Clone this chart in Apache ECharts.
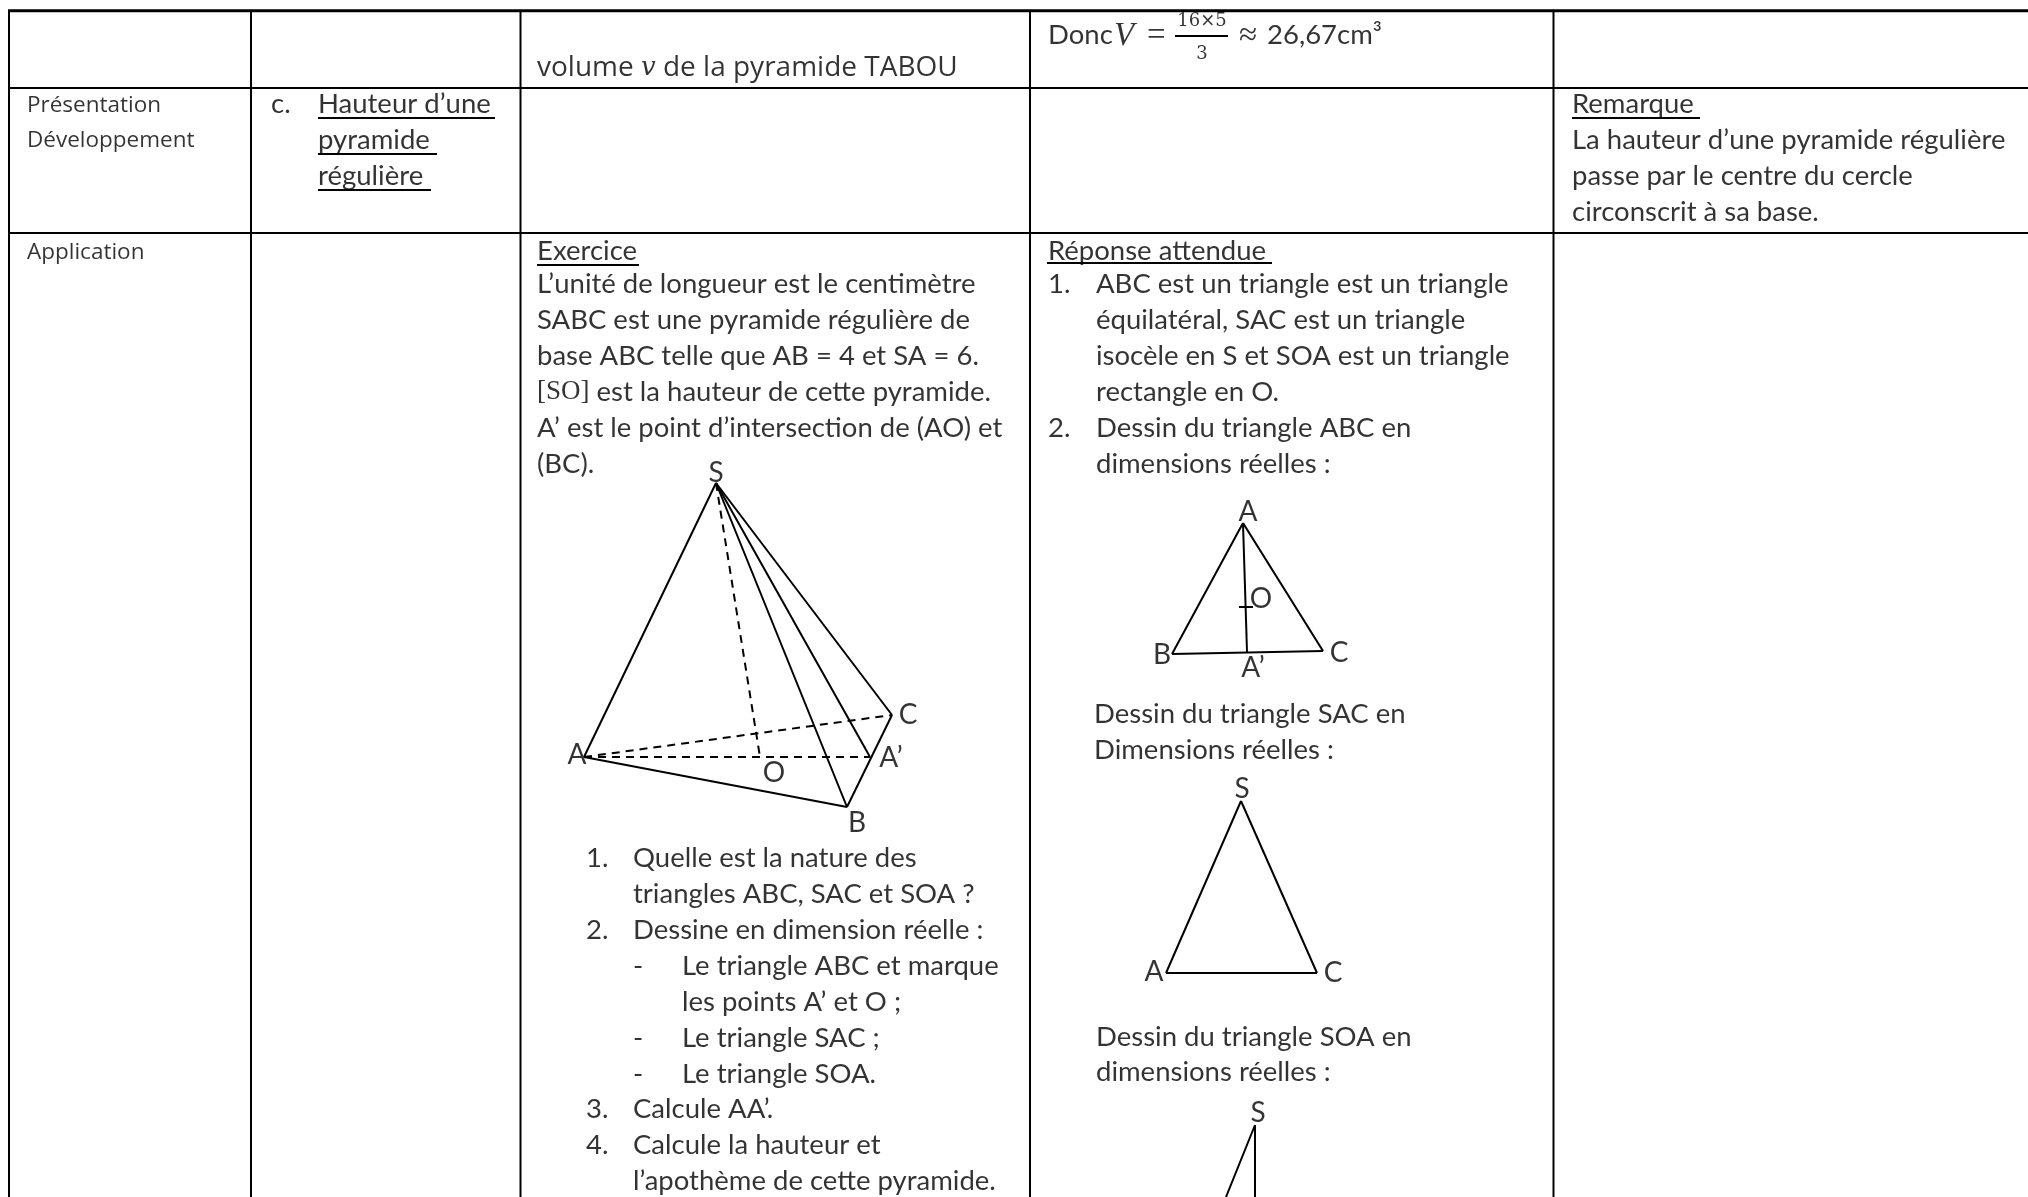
<!DOCTYPE html>
<html lang="fr">
<head>
    <meta charset="UTF-8">
    <title>Pyramide régulière</title>
    <script src="https://cdn.jsdelivr.net/npm/echarts@6/dist/echarts.min.js"></script>
    <style>html,body{margin:0;padding:0;background:#fff}</style>
</head>
<body>
    <div id="charts" style="width:2028px;height:1197px;"></div>
<script type="text/javascript">
    // lignes du tableau
    var columnRules = [9, 251, 520.5, 1030, 1553.5];
    var rowRules = [88, 233];
    var topRule = [[8, 10.7], [2028, 10.7]];

    // texte principal : [x, y, texte]
    var bodyText = [
        [271, 105, 'c.'],
        [318, 105, 'Hauteur d’une'],
        [318, 141, 'pyramide'],
        [318, 177, 'régulière'],
        [537, 252, 'Exercice'],
        [537, 285, 'L’unité de longueur est le centimètre'],
        [537, 321, 'SABC est une pyramide régulière de'],
        [537, 357, 'base ABC telle que AB = 4 et SA = 6.'],
        [537, 393, '{s|[SO]} est la hauteur de cette pyramide.'],
        [537, 429, 'A’ est le point d’intersection de (AO) et'],
        [537, 465, '(BC).'],
        [586, 859, '1.'],
        [633, 859, 'Quelle est la nature des'],
        [633, 895, 'triangles ABC, SAC et SOA ?'],
        [586, 931, '2.'],
        [633, 931, 'Dessine en dimension réelle :'],
        [633, 967, '-'],
        [682, 967, 'Le triangle ABC et marque'],
        [682, 1003, 'les points A’ et O ;'],
        [633, 1039, '-'],
        [682, 1039, 'Le triangle SAC ;'],
        [633, 1075, '-'],
        [682, 1075, 'Le triangle SOA.'],
        [586, 1110, '3.'],
        [633, 1110, 'Calcule AA’.'],
        [586, 1146, '4.'],
        [633, 1146, 'Calcule la hauteur et'],
        [633, 1182, 'l’apothème de cette pyramide.'],
        [1048, 252, 'Réponse attendue'],
        [1048, 285, '1.'],
        [1096, 285, 'ABC est un triangle est un triangle'],
        [1096, 321, 'équilatéral, SAC est un triangle'],
        [1096, 357, 'isocèle en S et SOA est un triangle'],
        [1096, 393, 'rectangle en O.'],
        [1048, 429, '2.'],
        [1096, 429, 'Dessin du triangle ABC en'],
        [1096, 465, 'dimensions réelles :'],
        [1094, 715, 'Dessin du triangle SAC en'],
        [1094, 751, 'Dimensions réelles :'],
        [1096, 1038, 'Dessin du triangle SOA en'],
        [1096, 1073, 'dimensions réelles :'],
        [1572, 105, 'Remarque'],
        [1572, 141, 'La hauteur d’une pyramide régulière'],
        [1572, 177, 'passe par le centre du cercle'],
        [1572, 213, 'circonscrit à sa base.'],
        [1048, 36, 'Donc'],
        [1267, 36, '26,67cm³']
    ];

    // cette ligne est plus large dans le document
    var volumeText = [
        [537, 68, 'volume {m|v} de la pyramide TABOU']
    ];

    // première colonne, plus petite
    var phaseText = [
        [27, 105, 'Présentation'],
        [27, 140, 'Développement'],
        [27, 252, 'Application']
    ];

    // formule de la ligne du haut
    var mathText = [
        [1114, 36, '{v|V}'],
        [1147, 36, '='],
        [1239, 36, '≈']
    ];
    var fractionText = [
        [1202, 21, '16×5'],
        [1202, 54, '3']
    ];

    // lettres des figures : [x, y, texte], centrées
    var figureLabels = [
        [716, 473, 'S'], [577, 755, 'A'], [908, 715, 'C'], [891, 758, 'A’'], [774, 773, 'O'], [857, 823, 'B'],
        [1248, 512, 'A'], [1261, 599, 'O'], [1162, 655, 'B'], [1339, 653, 'C'], [1253, 668, 'A’'],
        [1242, 789, 'S'], [1154, 972, 'A'], [1333, 973, 'C'],
        [1258, 1113, 'S']
    ];

    // soulignements
    var underlines = [
        [[318, 118], [495, 118]], [[318, 154], [437, 154]], [[318, 190], [431, 190]],
        [[537, 265], [639, 265]], [[1047, 263], [1272, 263]], [[1572, 118], [1700, 118]],
        [[1175, 36], [1228, 36]]
    ];

    // figures en trait plein
    var solidSegments = [
        [[716, 483], [584, 757]], [[584, 757], [847, 807]], [[847, 807], [892, 715]],
        [[716, 483], [847, 807]], [[716, 483], [892, 715]], [[716, 483], [870, 757]],
        [[1243, 523], [1172, 654]], [[1172, 654], [1323, 651]], [[1323, 651], [1243, 523]],
        [[1243, 523], [1247, 652]], [[1239, 607], [1253, 607]],
        [[1241, 801], [1166, 973]], [[1166, 973], [1317, 973]], [[1317, 973], [1241, 801]],
        [[1255, 1125], [1226, 1197]], [[1255, 1125], [1255, 1197]]
    ];

    // pointillés de la pyramide
    var dashedSegments = [
        [[716, 483], [760, 757]], [[584, 757], [870, 757]], [[584, 757], [892, 715]]
    ];

    function lineSeries(points, width, type) {
        return {
            type: 'line',
            data: points,
            showSymbol: false,
            silent: true,
            lineStyle: { color: '#000', width: width, type: type || 'solid' }
        };
    }

    function textSeries(items, style, pos) {
        return {
            type: 'scatter',
            data: items,
            symbolSize: 0,
            silent: true,
            label: Object.assign({
                show: true,
                position: pos || 'right',
                distance: 0,
                offset: [0, -1],
                color: '#000',
                fontFamily: 'Lato',
                fontSize: 27.5,
                formatter: function (p) { return p.data[2]; }
            }, style)
        };
    }

    var series = [];
    columnRules.forEach(function (x) {
        series.push(lineSeries([[x, 10], [x, 1197]], 2));
    });
    rowRules.forEach(function (y) {
        series.push(lineSeries([[8, y], [2028, y]], 2));
    });
    series.push(lineSeries(topRule, 3));
    underlines.forEach(function (s) { series.push(lineSeries(s, 2)); });
    solidSegments.forEach(function (s) { series.push(lineSeries(s, 2)); });
    dashedSegments.forEach(function (s) { series.push(lineSeries(s, 2, [8, 6])); });

    series.push(textSeries(bodyText, {
        rich: { s: { fontFamily: 'Liberation Serif', fontSize: 27 } }
    }));
    series.push(textSeries(volumeText, {
        fontFamily: 'Open Sans',
        fontSize: 28,
        offset: [0, 0],
        rich: { m: { fontFamily: 'DejaVu Serif', fontStyle: 'italic', fontSize: 26 } }
    }));
    series.push(textSeries(phaseText, { fontFamily: 'Open Sans', fontSize: 22.5, offset: [0, 1] }));
    series.push(textSeries(mathText, {
        fontFamily: 'Liberation Serif',
        fontSize: 33,
        offset: [0, 0],
        rich: { v: { fontFamily: 'Liberation Serif', fontStyle: 'italic', fontSize: 33 } }
    }));
    series.push(textSeries(fractionText, { fontFamily: 'DejaVu Serif', fontSize: 18, align: 'center', offset: [0, 0] }, 'inside'));
    series.push(textSeries(figureLabels, { align: 'center', verticalAlign: 'middle', fontSize: 28, offset: [0, 0] }, 'inside'));

    var myChart = echarts.init(document.getElementById('charts'));
    myChart.setOption({
        animation: false,
        backgroundColor: '#fff',
        grid: { left: 0, right: 0, top: 0, bottom: 0 },
        xAxis: { type: 'value', min: 0, max: 2028, show: false },
        yAxis: { type: 'value', min: 0, max: 1197, inverse: true, show: false },
        series: series
    });
</script>
</body>
</html>
